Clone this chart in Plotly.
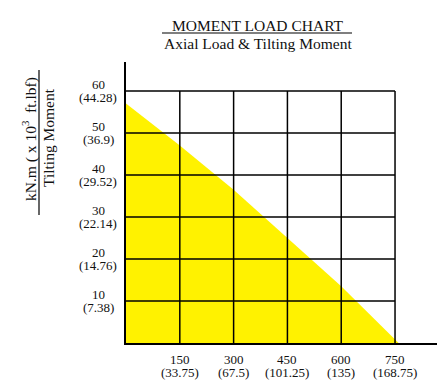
import plotly.graph_objects as go

# Data
x_ticks = [150, 300, 450, 600, 750]
x_labels_kn = ["150", "300", "450", "600", "750"]
x_labels_lbf = ["(33.75)", "(67.5)", "(101.25)", "(135)", "(168.75)"]
y_ticks = [10, 20, 30, 40, 50, 60]
y_labels_knm = ["10", "20", "30", "40", "50", "60"]
y_labels_ftlbf = ["(7.38)", "(14.76)", "(22.14)", "(29.52)", "(36.9)", "(44.28)"]
load_x = [0, 150, 300, 450, 600, 760]
moment_y = [57, 47, 36.5, 25, 13.5, 0]

FONT = "Liberation Serif"
OFF = 8  # default page body margin
W, H = 448 - OFF, 382 - OFF
L, R, T, B = 126 - OFF, 11, 62 - OFF, 39
PW, PH = W - L - R, H - T - B

def px_x(p):
    return (p - OFF - L) / PW

def px_y(p):
    return (H - B - (p - OFF)) / PH

fig = go.Figure()
fig.add_trace(go.Scatter(
    x=load_x, y=moment_y, mode="lines", fill="tozeroy",
    fillcolor="#FFF200", line=dict(width=0, color="#FFF200"),
    hoverinfo="skip", showlegend=False,
))

shapes = []
for xv in x_ticks:
    shapes.append(dict(type="line", xref="x", yref="y", x0=xv, x1=xv, y0=0, y1=max(y_ticks),
                       line=dict(color="black", width=1.5)))
for yv in y_ticks:
    shapes.append(dict(type="line", xref="x", yref="y", x0=0, x1=max(x_ticks), y0=yv, y1=yv,
                       line=dict(color="black", width=1.5)))
# title underline
shapes.append(dict(type="line", xref="paper", yref="paper", x0=px_x(162), x1=px_x(352),
                   y0=px_y(33), y1=px_y(33), line=dict(color="black", width=1.2)))
# y title fraction line
shapes.append(dict(type="line", xref="paper", yref="paper", x0=px_x(39), x1=px_x(39),
                   y0=px_y(70), y1=px_y(215), line=dict(color="black", width=1.2)))

tick_font = dict(family=FONT, size=13, color="#111")
annotations = []
for yv, a, b in zip(y_ticks, y_labels_knm, y_labels_ftlbf):
    annotations.append(dict(xref="paper", yref="y", x=px_x(98), y=yv, yshift=6.5, text=a, showarrow=False,
                            xanchor="center", yanchor="middle", font=tick_font))
    annotations.append(dict(xref="paper", yref="y", x=px_x(98), y=yv, yshift=-6.5, text=b, showarrow=False,
                            xanchor="center", yanchor="middle", font=tick_font))
for xv, a, b in zip(x_ticks, x_labels_kn, x_labels_lbf):
    annotations.append(dict(xref="x", yref="paper", x=xv, y=px_y(359), text=a, showarrow=False,
                            xanchor="center", yanchor="middle", font=tick_font))
    annotations.append(dict(xref="x", yref="paper", x=xv, y=px_y(372), text=b, showarrow=False,
                            xanchor="center", yanchor="middle", font=tick_font))
annotations.append(dict(xref="paper", yref="paper", x=px_x(258), y=px_y(25), text="MOMENT LOAD CHART",
                        showarrow=False, xanchor="center", yanchor="middle",
                        font=dict(family=FONT, size=15.5, color="#111")))
annotations.append(dict(xref="paper", yref="paper", x=px_x(258), y=px_y(43), text="Axial Load &amp; Tilting Moment",
                        showarrow=False, xanchor="center", yanchor="middle",
                        font=dict(family=FONT, size=15.5, color="#111")))
annotations.append(dict(xref="paper", yref="paper", x=px_x(29), y=px_y(139),
                        text="kN.m ( x 10<sup>3</sup>  ft.lbf)", textangle=-90,
                        showarrow=False, xanchor="center", yanchor="middle",
                        font=dict(family=FONT, size=15.5, color="#111")))
annotations.append(dict(xref="paper", yref="paper", x=px_x(48), y=px_y(138),
                        text="Tilting Moment", textangle=-90,
                        showarrow=False, xanchor="center", yanchor="middle",
                        font=dict(family=FONT, size=15.5, color="#111")))

fig.update_layout(
    width=W, height=H,
    margin=dict(l=L, r=R, t=T, b=B, pad=0),
    paper_bgcolor="white", plot_bgcolor="white",
    xaxis=dict(range=[0, 867], showline=True, linecolor="black", linewidth=1.5,
               showgrid=False, zeroline=False, showticklabels=False, ticks=""),
    yaxis=dict(range=[0, 66.9], showline=True, linecolor="black", linewidth=1.5,
               showgrid=False, zeroline=False, showticklabels=False, ticks=""),
    shapes=shapes, annotations=annotations, showlegend=False,
)

fig.write_html("out.html")
